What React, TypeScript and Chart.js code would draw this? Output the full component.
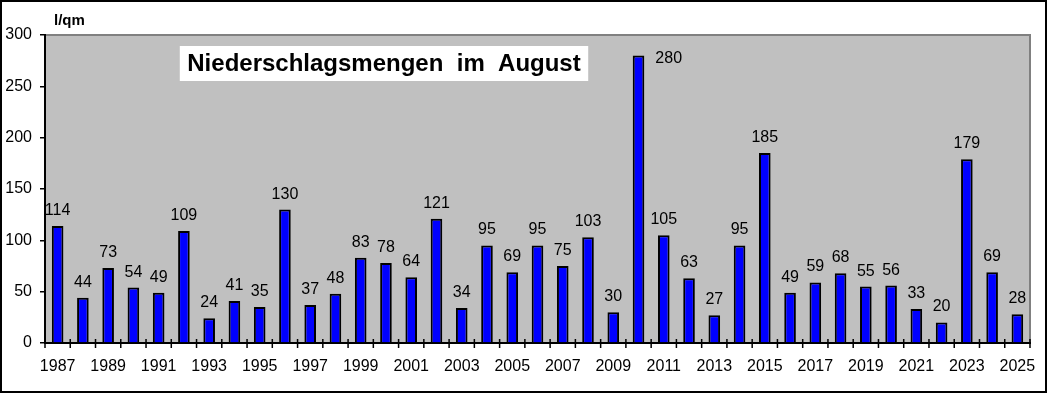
import React, { useEffect, useRef } from 'react';
import { Chart, registerables } from 'chart.js';

Chart.register(...registerables);

const years: string[] = [
  '1987', '1988', '1989', '1990', '1991', '1992', '1993', '1994', '1995', '1996',
  '1997', '1998', '1999', '2000', '2001', '2002', '2003', '2004', '2005', '2006',
  '2007', '2008', '2009', '2010', '2011', '2012', '2013', '2014', '2015', '2016',
  '2017', '2018', '2019', '2020', '2021', '2022', '2023', '2024', '2025',
];

const rainfall: number[] = [
  114, 44, 73, 54, 49, 109, 24, 41, 35, 130,
  37, 48, 83, 78, 64, 121, 34, 95, 69, 95,
  75, 103, 30, 280, 105, 63, 27, 95, 185, 49,
  59, 68, 55, 56, 33, 20, 179, 69, 28,
];

const yMin = 0;
const yMax = 300;
const yStep = 50;

const titleText = 'Niederschlagsmengen  im  August';
const unitLabel = 'l/qm';

const FONT = '"Liberation Sans", Arial, Helvetica, sans-serif';

const decorPlugin = {
  id: 'decor',
  beforeDraw(chart: any) {
    const { ctx, chartArea: a, width, height } = chart;
    ctx.save();
    ctx.fillStyle = '#ffffff';
    ctx.fillRect(0, 0, width, height);
    ctx.fillStyle = '#C0C0C0';
    ctx.fillRect(a.left, a.top, a.right - a.left, a.bottom - a.top);
    ctx.strokeStyle = '#808080';
    ctx.lineWidth = 2;
    ctx.beginPath();
    ctx.moveTo(a.left, a.top);
    ctx.lineTo(a.right, a.top);
    ctx.lineTo(a.right, a.bottom);
    ctx.stroke();
    ctx.restore();
  },
  afterDatasetsDraw(chart: any) {
    const { ctx, chartArea: a } = chart;
    const meta = chart.getDatasetMeta(0);
    const ds = chart.data.datasets[0];
    ctx.save();
    ctx.fillStyle = '#000000';
    ctx.font = `16px ${FONT}`;
    meta.data.forEach((bar: any, i: number) => {
      const label = String(ds.data[i]);
      const baseline = bar.y - 11;
      ctx.textBaseline = 'alphabetic';
      if (baseline - 12 < a.top) {
        ctx.textAlign = 'left';
        ctx.fillText(label, bar.x + bar.width / 2 + 11, bar.y + 7);
      } else {
        ctx.textAlign = 'center';
        ctx.fillText(label, bar.x, baseline);
      }
    });
    ctx.restore();
  },
  afterDraw(chart: any) {
    const { ctx, chartArea: a, width, height } = chart;
    const xs = chart.scales.x;
    const n = years.length;
    const step = (xs.right - xs.left) / n;
    ctx.save();
    // x tick marks crossing the axis
    ctx.strokeStyle = '#000000';
    ctx.lineWidth = 1.5;
    ctx.beginPath();
    for (let i = 0; i <= n; i++) {
      const x = xs.left + i * step;
      ctx.moveTo(x, a.bottom - 4);
      ctx.lineTo(x, a.bottom + 5);
    }
    ctx.stroke();

    // title box
    ctx.font = `bold 24px ${FONT}`;
    const tw = ctx.measureText(titleText).width;
    const cx = 384;
    const cy = 63.5;
    const boxW = tw + 15;
    const boxH = 35;
    ctx.fillStyle = '#ffffff';
    ctx.fillRect(cx - boxW / 2, cy - boxH / 2, boxW, boxH);
    ctx.fillStyle = '#000000';
    ctx.textAlign = 'center';
    ctx.textBaseline = 'middle';
    ctx.fillText(titleText, cx, cy + 1);

    // unit label
    ctx.font = `bold 15px ${FONT}`;
    ctx.textAlign = 'left';
    ctx.textBaseline = 'alphabetic';
    ctx.fillText(unitLabel, 54, 25);

    // outer frame
    ctx.strokeStyle = '#000000';
    ctx.lineWidth = 2;
    ctx.strokeRect(1, 1, width - 3, height - 3);
    ctx.restore();
  },
};

export default function App() {
  const canvasRef = useRef<HTMLCanvasElement | null>(null);

  useEffect(() => {
    const canvas = canvasRef.current;
    if (!canvas) return;
    const chart = new Chart(canvas, {
      type: 'bar',
      data: {
        labels: years,
        datasets: [
          {
            data: rainfall,
            backgroundColor: '#0000FF',
            borderColor: '#000000',
            borderWidth: 2,
            borderSkipped: 'start',
            barPercentage: 0.46,
            categoryPercentage: 1.0,
          },
        ],
      },
      options: {
        animation: false,
        responsive: false,
        maintainAspectRatio: false,
        devicePixelRatio: 1,
        layout: { padding: { top: 35, right: 18, left: 0, bottom: 0 } },
        plugins: {
          legend: { display: false },
          tooltip: { enabled: false },
          title: { display: false },
        },
        scales: {
          x: {
            offset: true,
            grid: { display: false },
            border: { display: true, color: '#000000', width: 2 },
            ticks: {
              autoSkip: false,
              maxRotation: 0,
              minRotation: 0,
              color: '#000000',
              font: { family: FONT, size: 16 },
              padding: 6,
              callback: (_v: any, i: number) => (i % 2 === 0 ? years[i] : ''),
            },
            afterFit: (s: any) => {
              s.height = 51;
            },
          },
          y: {
            min: yMin,
            max: yMax,
            ticks: {
              stepSize: yStep,
              color: '#000000',
              font: { family: FONT, size: 16 },
              padding: 8,
            },
            grid: {
              drawOnChartArea: false,
              drawTicks: true,
              tickLength: 5,
              color: '#000000',
              lineWidth: 1.5,
            },
            border: { display: true, color: '#000000', width: 2 },
            afterFit: (s: any) => {
              s.width = 45;
            },
          },
        },
      },
      plugins: [decorPlugin],
    });
    return () => {
      chart.destroy();
    };
  }, []);

  return (
    <div style={{ position: 'absolute', left: 0, top: 0, width: 1048, height: 394 }}>
      <canvas ref={canvasRef} width={1048} height={394} style={{ display: 'block' }} />
    </div>
  );
}
